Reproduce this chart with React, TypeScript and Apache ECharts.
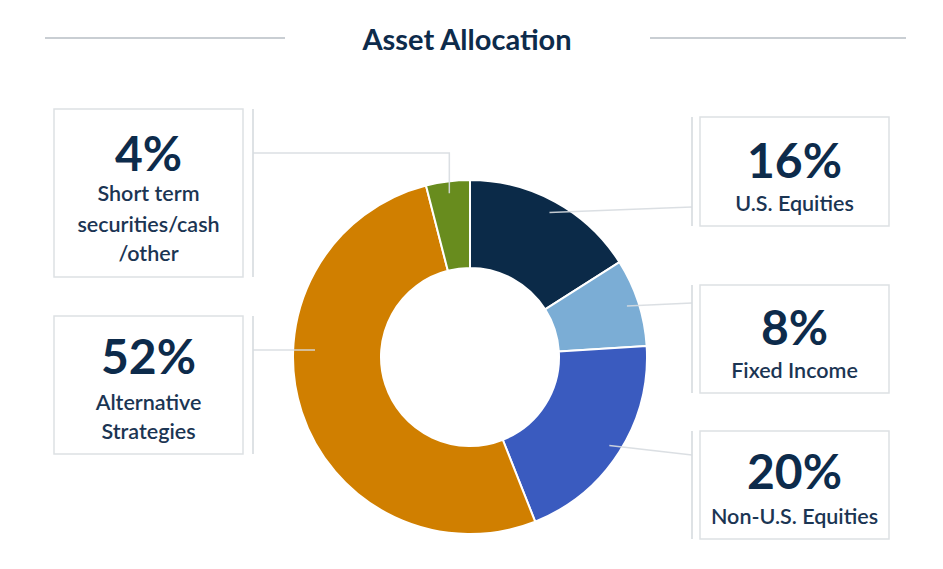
import React, { useEffect, useRef } from "react";
import * as echarts from "echarts";

const categories = ["U.S. Equities", "Fixed Income", "Non-U.S. Equities", "Alternative Strategies", "Short term securities/cash/other"];
const values = [16, 8, 20, 52, 4];
const labelLines = [["U.S. Equities"], ["Fixed Income"], ["Non-U.S. Equities"], ["Alternative", "Strategies"], ["Short term", "securities/cash", "/other"]];
const colors = ["#0b2a48", "#7badd5", "#3a5bbf", "#d07f00", "#688c1e"];
const titleText = "Asset Allocation";

// layout only
const CX = 470, CY = 357, R_IN = 89, R_OUT = 177;
const boxes = [
  { x: 700, y: 117, w: 189, h: 109, sepX: 692, pctY: 159, lineY: [203], leaderY: 207, elbow: false, anchor: null as null | number[] },
  { x: 700, y: 285, w: 189, h: 108, sepX: 692, pctY: 326, lineY: [370], leaderY: 303, elbow: false, anchor: null },
  { x: 700, y: 431, w: 189, h: 108, sepX: 692, pctY: 470, lineY: [516], leaderY: 455, elbow: false, anchor: null },
  { x: 54, y: 316, w: 189, h: 138, sepX: 253, pctY: 355, lineY: [402, 431], leaderY: 350, elbow: false, anchor: [315, 350] },
  { x: 54, y: 109, w: 189, h: 168, sepX: 253, pctY: 152, lineY: [193, 224, 253], leaderY: 153, elbow: true, anchor: null },
];

export default function App() {
  const ref = useRef<HTMLDivElement>(null);
  useEffect(() => {
    document.body.style.margin = "0";
    const chart = echarts.init(ref.current!, null, { renderer: "svg" });
    const total = values.reduce((a, b) => a + b, 0);
    let cum = 0;
    const anchors = values.map((v) => {
      const mid = (cum + v / 2) / total;
      cum += v;
      const ang = mid * 2 * Math.PI; // clockwise from top
      const r = 165;
      return [CX + r * Math.sin(ang), CY - r * Math.cos(ang)];
    });
    const graphics: any[] = [
      { type: "line", shape: { x1: 45, y1: 38, x2: 285, y2: 38 }, style: { stroke: "#c9ced3", lineWidth: 2 } },
      { type: "line", shape: { x1: 650, y1: 38, x2: 906, y2: 38 }, style: { stroke: "#c9ced3", lineWidth: 2 } },
      {
        type: "text", x: 467, y: 38,
        style: { text: titleText, textAlign: "center", textVerticalAlign: "middle", font: "bold 29px Lato", fill: "#0d2b4b" },
      },
    ];
    boxes.forEach((b, i) => {
      graphics.push({ type: "rect", z: 10, shape: { x: b.x, y: b.y, width: b.w, height: b.h }, style: { fill: "#fff", stroke: "#dde1e4", lineWidth: 1.5 } });
      graphics.push({ type: "line", z: 10, shape: { x1: b.sepX, y1: b.y, x2: b.sepX, y2: b.y + b.h }, style: { stroke: "#d3d8dc", lineWidth: 1.5 } });
      const a = b.anchor || anchors[i];
      const pts = b.elbow ? [[b.sepX, b.leaderY], [a[0], b.leaderY], [a[0], a[1]]] : [[b.sepX, b.leaderY], [a[0], a[1]]];
      graphics.push({ type: "polyline", z: 10, shape: { points: pts }, style: { stroke: "rgba(215,220,224,0.9)", lineWidth: 1.5, fill: "none" } });
      const cx = b.x + b.w / 2;
      graphics.push({
        type: "text", z: 11, x: cx, y: b.pctY,
        style: { text: values[i] + "%", textAlign: "center", textVerticalAlign: "middle", font: "bold 48px Lato", fill: "#0d2b4b" },
      });
      labelLines[i].forEach((t, j) => {
        graphics.push({
          type: "text", z: 11, x: cx, y: b.lineY[j],
          style: { text: t, textAlign: "center", textVerticalAlign: "middle", font: "600 21.5px Lato", fill: "#1b3553" },
        });
      });
    });
    chart.setOption({
      animation: false,
      graphic: graphics,
      series: [
        {
          type: "pie",
          center: [CX, CY],
          radius: [R_IN, R_OUT],
          startAngle: 90,
          clockwise: true,
          label: { show: false },
          labelLine: { show: false },
          silent: true,
          itemStyle: { borderColor: "#ffffff", borderWidth: 2 },
          data: categories.map((c, i) => ({ name: c, value: values[i], itemStyle: { color: colors[i] } })),
        },
      ],
    });
    return () => chart.dispose();
  }, []);
  return <div ref={ref} style={{ width: 943, height: 569 }} />;
}
